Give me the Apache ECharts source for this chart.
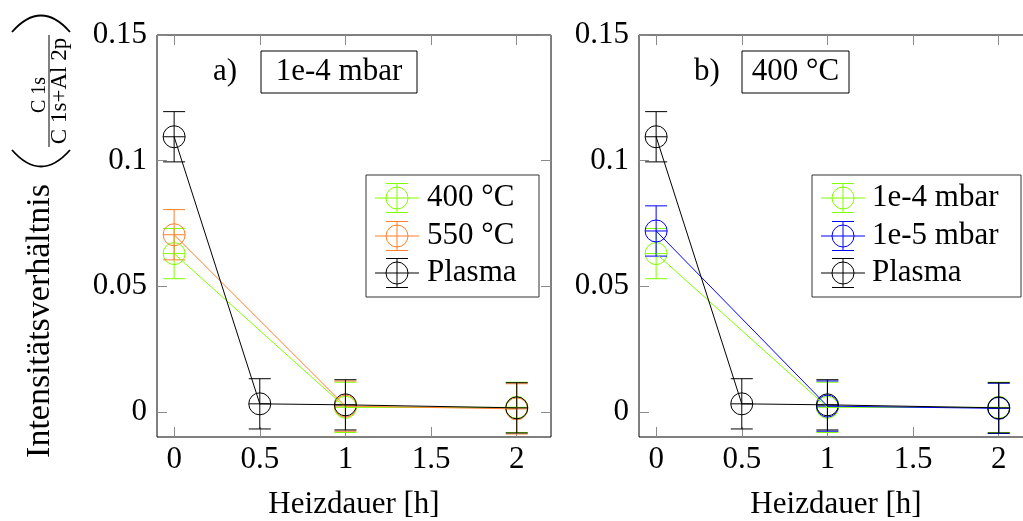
<!DOCTYPE html>
<html>
<head>
<meta charset="utf-8">
<script src="https://cdn.jsdelivr.net/npm/echarts@6/dist/echarts.min.js"></script>
<style>
html,body{margin:0;padding:0;background:#fff;}
#chart{width:1023px;height:521px;}
</style>
</head>
<body>
<div id="chart"></div>
<script>
// ---- data ----
const xHeat = [0, 1, 2];
const xPlasma = [0, 0.5, 1, 2];
const val400 = [0.063, 0.0018, 0.0018];     // 400 °C / 1e-4 mbar
const err400 = [0.01, 0.01, 0.01];
const val550 = [0.0705, 0.0023, 0.0012];    // 550 °C
const err550 = [0.01, 0.01, 0.01];
const val1e5 = [0.072, 0.0023, 0.0014];     // 1e-5 mbar
const err1e5 = [0.01, 0.01, 0.01];
const valPlasma = [0.1095, 0.0032, 0.0028, 0.0016];
const errPlasma = [0.01, 0.01, 0.01, 0.01];
const xTicks = [0, 0.5, 1, 1.5, 2];
const yTicks = [0, 0.05, 0.1, 0.15];
const legendA = ['400 °C', '550 °C', 'Plasma'];
const legendB = ['1e-4 mbar', '1e-5 mbar', 'Plasma'];

const FONT = '"Liberation Serif", "DejaVu Serif", serif';
const GREEN = '#80ff00', ORANGE = '#ff7f2a', BLUE = '#0000ff', BLACK = '#000000';

function pts(xs, ys, es) { return xs.map((x, i) => [x, ys[i], es[i]]); }

function markerRender(color) {
  return function (params, api) {
    const x = api.value(0), y = api.value(1), e = api.value(2);
    const p = api.coord([x, y]);
    const t = api.coord([x, y + e]);
    const b = api.coord([x, y - e]);
    const r = 11, cw = 11;
    const ls = { stroke: color, lineWidth: 1, fill: null };
    return {
      type: 'group',
      children: [
        { type: 'line', shape: { x1: p[0], y1: t[1], x2: p[0], y2: b[1] }, style: ls },
        { type: 'line', shape: { x1: p[0] - cw, y1: t[1], x2: p[0] + cw, y2: t[1] }, style: ls },
        { type: 'line', shape: { x1: p[0] - cw, y1: b[1], x2: p[0] + cw, y2: b[1] }, style: ls },
        { type: 'circle', shape: { cx: p[0], cy: p[1], r: r }, style: { stroke: color, lineWidth: 1, fill: 'none' } },
        { type: 'line', shape: { x1: p[0] - r, y1: p[1], x2: p[0] + r, y2: p[1] }, style: ls }
      ]
    };
  };
}

function seriesPair(name, grid, xs, ys, es, color) {
  return [
    { name: name, type: 'line', xAxisIndex: grid, yAxisIndex: grid,
      data: xs.map((x, i) => [x, ys[i]]), showSymbol: false, symbol: 'none',
      lineStyle: { color: color, width: 1 }, itemStyle: { color: color },
      animation: false, silent: true },
    { name: name, type: 'custom', xAxisIndex: grid, yAxisIndex: grid,
      data: pts(xs, ys, es), renderItem: markerRender(color),
      animation: false, silent: true, clip: false }
  ];
}

const tickStyle = { show: true, inside: true, length: 10, lineStyle: { color: '#8a8a8a', width: 1 } };

function xAx(grid, main) {
  return {
    type: 'value', gridIndex: grid, min: -0.1, max: 2.2,
    position: main ? 'bottom' : 'top',
    splitLine: { show: false },
    axisLine: { show: false, onZero: false },
    axisTick: Object.assign({ customValues: xTicks }, tickStyle),
    axisLabel: main ? { show: true, customValues: xTicks, fontFamily: FONT, fontSize: 31, color: '#000', margin: 7,
      formatter: v => String(v) } : { show: false },
    name: main ? 'Heizdauer [h]' : '',
    nameLocation: 'middle', nameGap: 52,
    nameTextStyle: { fontFamily: FONT, fontSize: 31, color: '#000' }
  };
}
function yAx(grid, main) {
  return {
    type: 'value', gridIndex: grid, min: -0.01, max: 0.15,
    position: main ? 'left' : 'right',
    splitLine: { show: false },
    axisLine: { show: false, onZero: false },
    axisTick: Object.assign({ customValues: yTicks }, tickStyle),
    axisLabel: main ? { show: true, customValues: yTicks, fontFamily: FONT, fontSize: 31, color: '#000', margin: 10,
      formatter: v => String(v) } : { show: false }
  };
}

function legendGraphics(x0, y0, w, h, iconL, iconR, textX, labels, colors) {
  const els = [{ type: 'rect', shape: { x: x0, y: y0, width: w, height: h },
    style: { fill: '#fff', stroke: '#333', lineWidth: 1 }, z: 10 }];
  const rows = [198, 236, 273];
  const cx = (iconL + iconR) / 2;
  labels.forEach((lab, i) => {
    const y = rows[i], c = colors[i];
    const s = { stroke: c, lineWidth: 1, fill: null };
    els.push({ type: 'line', shape: { x1: iconL, y1: y, x2: iconR, y2: y }, style: s, z: 11 });
    els.push({ type: 'line', shape: { x1: cx, y1: y - 14.5, x2: cx, y2: y + 14.5 }, style: s, z: 11 });
    els.push({ type: 'line', shape: { x1: cx - 11, y1: y - 14.5, x2: cx + 11, y2: y - 14.5 }, style: s, z: 11 });
    els.push({ type: 'line', shape: { x1: cx - 11, y1: y + 14.5, x2: cx + 11, y2: y + 14.5 }, style: s, z: 11 });
    els.push({ type: 'circle', shape: { cx: cx, cy: y, r: 11 }, style: { stroke: c, lineWidth: 1, fill: 'none' }, z: 11 });
    els.push({ type: 'text', x: textX, y: y, z: 11,
      style: { text: lab, font: '31px ' + FONT, fill: '#000', align: 'left', verticalAlign: 'middle' } });
  });
  return els;
}

function txt(x, y, text, size, align, rot) {
  const el = { type: 'text', x: x, y: y,
    style: { text: text, font: size + 'px ' + FONT, fill: '#000', align: align, verticalAlign: 'middle' } };
  if (rot) el.rotation = rot;
  return el;
}

function paren(yEnd, cpy) {
  return { type: 'bezierCurve',
    shape: { x1: 12, y1: yEnd, x2: 70, y2: yEnd, cpx1: 41, cpy1: cpy },
    style: { stroke: '#000', lineWidth: 1.8, fill: null } };
}

const graphics = [
  // y axis label
  txt(40, 321, 'Intensitätsverhältnis', 34, 'center', Math.PI / 2),
  txt(40, 95, 'C 1s', 20, 'center', Math.PI / 2),
  { type: 'line', shape: { x1: 49, y1: 35, x2: 49, y2: 147 }, style: { stroke: '#000', lineWidth: 1 } },
  txt(60, 91, 'C 1s+Al 2p', 23, 'center', Math.PI / 2),
  paren(32, -1),
  paren(150, 183),
  // panel labels
  txt(213, 72, 'a)', 31, 'left'),
  { type: 'rect', shape: { x: 261, y: 51, width: 156, height: 42 }, style: { fill: '#fff', stroke: '#000', lineWidth: 1 } },
  txt(339, 72, '1e-4 mbar', 31, 'center'),
  txt(694, 72, 'b)', 31, 'left'),
  { type: 'rect', shape: { x: 742, y: 51, width: 107, height: 42 }, style: { fill: '#fff', stroke: '#000', lineWidth: 1 } },
  txt(795.5, 72, '400 °C', 31, 'center')
].concat(
  legendGraphics(366, 175, 173, 122, 375, 419, 427, legendA, [GREEN, ORANGE, BLACK]),
  legendGraphics(812, 175, 209, 122, 821, 865, 872, legendB, [GREEN, BLUE, BLACK])
);

const gridBase = { top: 35, width: 394, height: 402, show: true, borderColor: '#000', borderWidth: 1,
  backgroundColor: 'transparent', containLabel: false, outerBoundsMode: 'none' };

const option = {
  animation: false,
  backgroundColor: '#fff',
  textStyle: { fontFamily: FONT },
  grid: [
    Object.assign({ left: 157 }, gridBase),
    Object.assign({ left: 639 }, gridBase)
  ],
  xAxis: [xAx(0, true), xAx(1, true), xAx(0, false), xAx(1, false)],
  yAxis: [yAx(0, true), yAx(1, true), yAx(0, false), yAx(1, false)],
  series: [].concat(
    seriesPair('400 °C', 0, xHeat, val400, err400, GREEN),
    seriesPair('550 °C', 0, xHeat, val550, err550, ORANGE),
    seriesPair('Plasma', 0, xPlasma, valPlasma, errPlasma, BLACK),
    seriesPair('1e-4 mbar', 1, xHeat, val400, err400, GREEN),
    seriesPair('1e-5 mbar', 1, xHeat, val1e5, err1e5, BLUE),
    seriesPair('Plasma', 1, xPlasma, valPlasma, errPlasma, BLACK)
  ),
  graphic: graphics
};

const chart = echarts.init(document.getElementById('chart'), null, { renderer: 'canvas' });
chart.setOption(option);
</script>
</body>
</html>
